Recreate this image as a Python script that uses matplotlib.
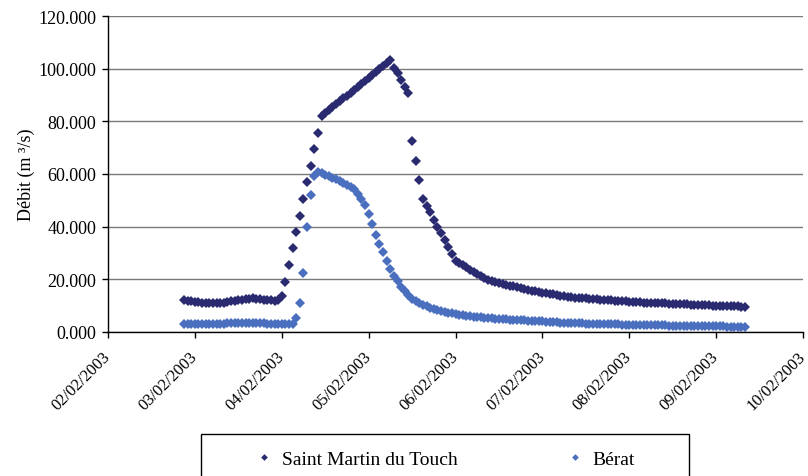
import matplotlib
matplotlib.use("Agg")
import matplotlib.pyplot as plt
import matplotlib.dates as mdates
from matplotlib.lines import Line2D
from matplotlib.patches import Rectangle
from matplotlib.ticker import FuncFormatter
import pandas as pd

# hourly discharge (m3/s), from 02/02/2003 21:00
start = "2003-02-02 21:00"
saint_martin = [
    12.0, 11.8, 11.6, 11.4, 11.3, 11.2, 11.1, 11.0, 11.0, 11.0, 11.1, 11.2, 11.4, 11.6,
    11.8, 12.1, 12.3, 12.5, 12.7, 12.8, 12.7, 12.5, 12.3, 12.1, 12.0, 11.9, 12.0, 13.6,
    19.0, 25.4, 31.9, 38.0, 44.0, 50.5, 56.9, 63.0, 69.4, 75.5,
    82.0, 83.1, 84.2, 85.4, 86.5, 87.6, 88.7, 89.8, 90.9, 92.0,
    93.2, 94.3, 95.4, 96.5, 97.6, 98.7, 99.8, 101.0, 102.1, 103.2,
    100.4, 98.2, 95.6, 93.1, 90.7, 72.5, 65.0, 57.7, 50.5, 47.9,
    45.4, 42.6, 40.0, 37.5, 34.9, 32.1, 29.5, 27.1,
    26.2, 25.4, 24.6, 23.7, 22.9, 22.0, 21.2, 20.4, 19.6, 19.2,
    18.9, 18.6, 18.3, 18.0, 17.6, 17.3, 17.0, 16.7, 16.4, 16.0,
    15.7, 15.5, 15.2, 15.0, 14.8, 14.5, 14.3, 14.0, 13.8, 13.6,
    13.4, 13.2, 13.1, 13.0, 12.9, 12.8, 12.7, 12.6, 12.5, 12.3,
    12.2, 12.1, 12.0, 11.9, 11.8, 11.7, 11.6, 11.5, 11.5, 11.4,
    11.3, 11.2, 11.2, 11.1, 11.0, 11.0, 10.9, 10.9, 10.8, 10.7,
    10.7, 10.6, 10.5, 10.5, 10.4, 10.4, 10.3, 10.2, 10.2, 10.1,
    10.0, 10.0, 9.9, 9.9, 9.8, 9.8, 9.7, 9.7, 9.6, 9.6,
]
berat = [
    2.9, 2.9, 2.9, 2.9, 2.9, 2.9, 3.0, 3.0, 3.0, 3.1, 3.1,
    3.2, 3.3, 3.4, 3.5, 3.5, 3.6, 3.6, 3.6, 3.5, 3.5, 3.4,
    3.3, 3.2, 3.1, 3.0, 3.0, 2.9, 2.9, 2.9, 3.0,
    5.4, 11.0, 22.5, 39.9, 52.1, 59.3, 60.8,
    60.3, 59.8, 59.2, 58.6, 58.0, 57.3, 56.6, 55.9, 55.1, 54.2,
    52.4, 50.4, 48.4, 44.8, 41.0, 37.0, 33.6, 30.2, 27.1, 24.0,
    21.4, 19.2, 17.2, 15.5, 14.0, 12.6, 11.6, 10.9, 10.3, 9.8,
    9.3, 8.9, 8.5, 8.1, 7.7, 7.4, 7.1, 6.8, 6.6, 6.4, 6.2, 6.0,
    5.85, 5.7, 5.55, 5.4, 5.3, 5.2, 5.1, 5.0, 4.9, 4.8,
    4.72, 4.64, 4.56, 4.48, 4.4, 4.32, 4.24, 4.16, 4.08, 4.0,
    3.92, 3.84, 3.76, 3.68, 3.6, 3.54, 3.48, 3.42, 3.36, 3.3,
    3.26, 3.22, 3.18, 3.14, 3.1, 3.06, 3.02, 2.98, 2.94, 2.9,
    2.87, 2.84, 2.81, 2.78, 2.75, 2.72, 2.69, 2.66, 2.63, 2.6,
    2.57, 2.54, 2.51, 2.48, 2.45, 2.42, 2.39, 2.36, 2.33, 2.3,
    2.28, 2.26, 2.24, 2.22, 2.2, 2.18, 2.16, 2.14, 2.12, 2.1,
    2.08, 2.06, 2.05, 2.04, 2.02, 2.0,
]
series_names = ["Saint Martin du Touch", "Bérat"]
y_ticks = [0, 20, 40, 60, 80, 100, 120]

times = pd.date_range(start, periods=len(saint_martin), freq="h")

# styling
dark_blue = "#2a2a70"
light_blue = "#4a6fbf"
grid_grey = "#7a7a7a"
plt.rcParams["font.family"] = ["Liberation Serif", "DejaVu Serif"]
plt.rcParams["font.size"] = 12

fig = plt.figure(figsize=(8.08, 4.77), dpi=100)
ax = fig.add_axes([108 / 808, 1 - 333 / 477, 695 / 808, 316 / 477])

ax.plot(times, saint_martin, ls="none", marker="D", ms=5, mew=0,
        color=dark_blue, label=series_names[0])
ax.plot(times, berat, ls="none", marker="D", ms=5, mew=0,
        color=light_blue, label=series_names[1])

ax.set_ylim(0, 120)
ax.set_yticks(y_ticks)
ax.yaxis.set_major_formatter(FuncFormatter(lambda v, p: f"{v:.3f}"))
ax.set_xlim(pd.Timestamp("2003-02-02"), pd.Timestamp("2003-02-10"))
ax.xaxis.set_major_locator(mdates.DayLocator())
ax.xaxis.set_major_formatter(mdates.DateFormatter("%d/%m/%Y"))

ax.grid(axis="y", color=grid_grey, lw=1)
ax.set_axisbelow(True)
for s in ["top", "right"]:
    ax.spines[s].set_visible(False)
for s in ["left", "bottom"]:
    ax.spines[s].set_color("black")
    ax.spines[s].set_linewidth(1)

ax.tick_params(axis="y", direction="out", length=4, width=1, pad=4.5, labelsize=13)
ax.tick_params(axis="x", direction="out", length=4.5, width=1, pad=11)
for lab in ax.get_xticklabels():
    lab.set_rotation(45)
    lab.set_ha("right")
    lab.set_va("center")
    lab.set_rotation_mode("anchor")

ax.set_ylabel("Débit (m ³/s)", labelpad=2, fontsize=13)

# legend box, runs off the bottom edge like the original
fig.patches.append(Rectangle((201 / 808, -0.05), 488 / 808, 0.05 + 1 - 435 / 477,
                             transform=fig.transFigure, fill=False,
                             edgecolor="black", lw=1))
handles = [Line2D([], [], ls="none", marker="D", ms=3.4, mew=0, color=c)
           for c in (dark_blue, light_blue)]
fig.legend(handles, series_names, loc="center left",
           bbox_to_anchor=(245 / 808, 1 - 460 / 477), ncol=2, frameon=False,
           handlelength=1, handletextpad=0.41, columnspacing=5.5,
           borderpad=0, fontsize=14)

plt.savefig("out.png", dpi=100)
